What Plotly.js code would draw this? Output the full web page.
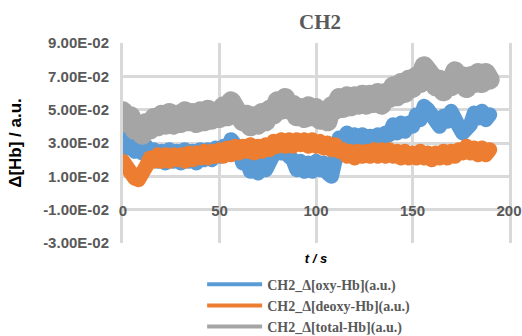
<!DOCTYPE html>
<html>
<head>
<meta charset="utf-8">
<script src="https://cdn.plot.ly/plotly-3.0.1.min.js"></script>
<style>
html,body{margin:0;padding:0;background:#fff;}
#chart{width:522px;height:336px;}
.scatterlayer path.js-line{stroke-linejoin:round !important;stroke-linecap:round !important;}
</style>
</head>
<body>
<div id="chart"></div>
<script>
// time (s)
const timeS = [0,2,4,6,8,10,12,14,16,18,20,22,24,26,28,30,32,34,36,38,40,42,44,46,48,50,52,54,56,58,60,62,64,66,68,70,72,74,76,78,80,82,84,86,88,90,92,94,96,98,100,102,104,106,108,110,112,114,116,118,120,122,124,126,128,130,132,134,136,138,140,142,144,146,148,150,152,154,156,158,160,162,164,166,168,170,172,174,176,178,180,182,184,186,188,190];

// CH2 Δ[oxy-Hb]
const oxyHb = [0.033,0.027,0.031,0.025,0.029,0.024,0.028,0.022,0.026,0.019,0.025,0.018,0.026,0.019,0.025,0.018,0.026,0.019,0.025,0.018,0.026,0.020,0.026,0.020,0.027,0.022,0.028,0.024,0.032,0.030,0.026,0.018,0.020,0.013,0.016,0.012,0.018,0.014,0.019,0.022,0.028,0.024,0.029,0.022,0.020,0.014,0.019,0.013,0.018,0.013,0.019,0.014,0.018,0.012,0.010,0.020,0.033,0.031,0.036,0.032,0.035,0.031,0.035,0.030,0.034,0.030,0.035,0.031,0.036,0.035,0.041,0.036,0.042,0.037,0.042,0.040,0.047,0.044,0.052,0.050,0.046,0.044,0.040,0.046,0.043,0.049,0.046,0.040,0.036,0.039,0.041,0.048,0.045,0.049,0.044,0.047];

// CH2 Δ[deoxy-Hb]
const deoxyHb = [0.019,0.015,0.014,0.009,0.008,0.011,0.016,0.021,0.019,0.023,0.019,0.023,0.019,0.023,0.020,0.023,0.019,0.024,0.020,0.024,0.021,0.025,0.021,0.025,0.022,0.026,0.022,0.027,0.023,0.028,0.024,0.028,0.025,0.029,0.024,0.028,0.025,0.029,0.026,0.031,0.028,0.032,0.028,0.032,0.028,0.032,0.029,0.032,0.028,0.032,0.028,0.031,0.027,0.030,0.026,0.029,0.025,0.026,0.022,0.025,0.021,0.025,0.022,0.025,0.022,0.026,0.022,0.026,0.022,0.026,0.022,0.025,0.021,0.025,0.021,0.024,0.021,0.025,0.021,0.024,0.020,0.024,0.021,0.025,0.021,0.025,0.022,0.026,0.024,0.028,0.024,0.027,0.023,0.027,0.023,0.026];

// CH2 Δ[total-Hb]
const totalHb = [0.049,0.042,0.046,0.038,0.041,0.035,0.042,0.038,0.045,0.040,0.047,0.041,0.048,0.041,0.047,0.042,0.049,0.043,0.048,0.042,0.049,0.043,0.050,0.044,0.049,0.045,0.052,0.046,0.055,0.049,0.051,0.043,0.047,0.040,0.046,0.041,0.048,0.043,0.050,0.047,0.055,0.050,0.057,0.050,0.053,0.046,0.051,0.045,0.052,0.046,0.051,0.044,0.049,0.043,0.052,0.050,0.057,0.051,0.058,0.052,0.058,0.053,0.059,0.053,0.059,0.054,0.060,0.053,0.060,0.057,0.064,0.058,0.066,0.060,0.068,0.063,0.070,0.066,0.076,0.074,0.070,0.064,0.068,0.061,0.067,0.064,0.073,0.068,0.070,0.063,0.070,0.066,0.072,0.066,0.072,0.068];

const seriesNames = ['CH2_Δ[oxy-Hb](a.u.)','CH2_Δ[deoxy-Hb](a.u.)','CH2_Δ[total-Hb](a.u.)'];
const seriesColors = ['#5b9bd5','#ed7d31','#a5a5a5'];
const yTickVals = [0.09,0.07,0.05,0.03,0.01,-0.01,-0.03];
const yTickText = ['9.00E-02','7.00E-02','5.00E-02','3.00E-02','1.00E-02','-1.00E-02','-3.00E-02'];
const xTickVals = [0,50,100,150,200];
const xTickText = ['0','50','100','150','200'];

const seriesData = [oxyHb, deoxyHb, totalHb];
const widths = [15,15,20];

const traces = [];
seriesData.forEach((ys,i)=>{
  traces.push({x:timeS, y:ys, type:'scatter', mode:'lines', name:seriesNames[i],
    line:{color:seriesColors[i], width:widths[i]}, showlegend:false, hoverinfo:'skip'});
});
seriesNames.forEach((n,i)=>{
  traces.push({x:[null], y:[null], type:'scatter', mode:'lines', name:n, legendgroup:'g'+i,
    line:{color:seriesColors[i], width:4}, showlegend:true});
});

const tickFont = {family:'Liberation Sans, Arial, sans-serif', size:15, color:'#595959', weight:'bold'};

const layout = {
  width:522, height:336,
  margin:{l:123, r:13, t:43, b:93, pad:0, autoexpand:false},
  paper_bgcolor:'#ffffff', plot_bgcolor:'#ffffff',
  title:{text:'CH2', x:0.613, xanchor:'center', y:0.935, yanchor:'middle',
    font:{family:'Liberation Serif, Times New Roman, serif', size:21, color:'#595959', weight:'bold'}},
  showlegend:true,
  legend:{orientation:'v', x:0.205, xanchor:'left', y:-0.128, yanchor:'top',
    font:{family:'Liberation Serif, Times New Roman, serif', size:14, color:'#595959', weight:'bold'},
    tracegroupgap:0, itemwidth:55, bgcolor:'rgba(0,0,0,0)'},
  xaxis:{range:[0,200], tickvals:xTickVals, ticktext:xTickText, showgrid:true, gridcolor:'#d9d9d9', gridwidth:3,
    zeroline:false, showline:false, ticks:'', anchor:'free', position:0.215, automargin:false,
    tickfont:tickFont,
    title:{text:'t / s', standoff:35, font:{family:'Liberation Sans, Arial, sans-serif', size:13, color:'#000', weight:'bold', style:'italic'}}},
  yaxis:{range:[-0.03,0.09], tickvals:yTickVals, ticktext:yTickText, showgrid:true, gridcolor:'#d9d9d9', gridwidth:3,
    zeroline:false, showline:true, linecolor:'#d9d9d9', linewidth:3, mirror:true, ticks:'', automargin:false,
    tickfont:tickFont, ticklabelstandoff:8,
    title:{text:'Δ[Hb] / a.u.', standoff:18, font:{family:'Liberation Sans, Arial, sans-serif', size:17, color:'#000', weight:'bold'}}}
};

Plotly.newPlot('chart', traces, layout, {staticPlot:true, displayModeBar:false});
</script>
</body>
</html>
